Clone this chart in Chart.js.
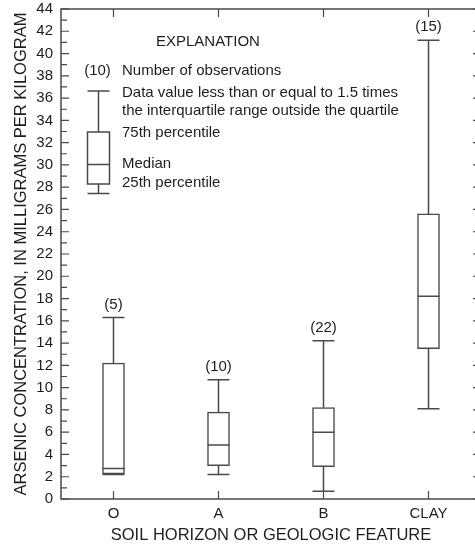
<!DOCTYPE html>
<html>
<head>
<meta charset="utf-8">
<script src="https://cdn.jsdelivr.net/npm/chart.js@4"></script>
<style>
  html, body { margin: 0; padding: 0; background: #fff; overflow: hidden; }
</style>
</head>
<body>
<canvas id="boxchart" width="490" height="546"></canvas>
<script>
"use strict";

// Data (arsenic, mg/kg)
const categories = ["O", "A", "B", "CLAY"];
const observations = [5, 10, 22, 15];
const lowerWhiskers = [2.2, 2.2, 0.7, 8.1];
const lowerQuartiles = [2.25, 3.0, 2.9, 13.5];
const medians = [2.75, 4.85, 6.0, 18.2];
const upperQuartiles = [12.2, 7.8, 8.2, 25.6];
const upperWhiskers = [16.3, 10.7, 14.2, 41.2];
const yTickValues = [0, 2, 4, 6, 8, 10, 12, 14, 16, 18, 20, 22, 24, 26, 28, 30, 32, 34, 36, 38, 40, 42, 44];

const FONT = "'Liberation Sans', Arial, Helvetica, sans-serif";
const LINE_COLOR = "#4a4a4a";
const TEXT_COLOR = "#1e1e1e";
const BOX_WIDTH = 22;

document.addEventListener("DOMContentLoaded", createChart);

/**
 * Ramen runt diagrammet med inåtriktade skalstreck på alla fyra sidor.
 */
const framePlugin = {
  id: "frame",
  afterDatasetsDraw(chart) {
    const {ctx, chartArea: area} = chart;
    const x = chart.scales.x;
    const y = chart.scales.y;
    ctx.save();
    ctx.strokeStyle = LINE_COLOR;
    ctx.lineWidth = 1.5;
    ctx.strokeRect(area.left, area.top, area.right - area.left, area.bottom - area.top);

    ctx.lineWidth = 1.2;
    ctx.beginPath();
    for (let v = yTickValues[0]; v <= yTickValues[yTickValues.length - 1]; v++) {
      const py = y.getPixelForValue(v);
      const len = v % 2 === 0 ? 8 : 6;
      ctx.moveTo(area.left, py);
      ctx.lineTo(area.left + len, py);
    }
    yTickValues.forEach((v) => {
      const py = y.getPixelForValue(v);
      ctx.moveTo(area.right, py);
      ctx.lineTo(area.right - 8, py);
    });
    categories.forEach((c, i) => {
      const px = x.getPixelForValue(i);
      ctx.moveTo(px, area.bottom);
      ctx.lineTo(px, area.bottom - 8);
      ctx.moveTo(px, area.top);
      ctx.lineTo(px, area.top + 8);
    });
    ctx.stroke();
    ctx.restore();
  },
};

/**
 * Morrhår, median och antal observationer för varje låda.
 */
const boxPlotPlugin = {
  id: "boxPlot",
  afterDatasetsDraw(chart) {
    const ctx = chart.ctx;
    const x = chart.scales.x;
    const y = chart.scales.y;
    const half = BOX_WIDTH / 2;
    ctx.save();
    ctx.strokeStyle = LINE_COLOR;
    ctx.lineWidth = 1.5;
    categories.forEach((c, i) => {
      const cx = x.getPixelForValue(i);
      const top = y.getPixelForValue(upperWhiskers[i]);
      const bottom = y.getPixelForValue(lowerWhiskers[i]);
      ctx.beginPath();
      ctx.moveTo(cx, y.getPixelForValue(upperQuartiles[i]));
      ctx.lineTo(cx, top);
      ctx.moveTo(cx - half, top);
      ctx.lineTo(cx + half, top);
      ctx.moveTo(cx, y.getPixelForValue(lowerQuartiles[i]));
      ctx.lineTo(cx, bottom);
      ctx.moveTo(cx - half, bottom);
      ctx.lineTo(cx + half, bottom);
      const med = y.getPixelForValue(medians[i]);
      ctx.moveTo(cx - half, med);
      ctx.lineTo(cx + half, med);
      ctx.stroke();

      ctx.fillStyle = TEXT_COLOR;
      ctx.font = "15px " + FONT;
      ctx.textAlign = "center";
      ctx.textBaseline = "middle";
      ctx.fillText("(" + observations[i] + ")", cx, top - 13);
    });
    ctx.restore();
  },
};

/**
 * Förklaringsrutan uppe till vänster.
 */
const explanationPlugin = {
  id: "explanation",
  afterDraw(chart) {
    const ctx = chart.ctx;
    const left = chart.chartArea.left;
    const top = chart.chartArea.top;
    const cx = left + 37.5;
    const half = BOX_WIDTH / 2;
    ctx.save();
    ctx.strokeStyle = LINE_COLOR;
    ctx.lineWidth = 1.5;
    ctx.beginPath();
    ctx.moveTo(cx - half, top + 82);
    ctx.lineTo(cx + half, top + 82);
    ctx.moveTo(cx, top + 82);
    ctx.lineTo(cx, top + 123);
    ctx.rect(cx - half, top + 123, BOX_WIDTH, 52);
    ctx.moveTo(cx - half, top + 155.5);
    ctx.lineTo(cx + half, top + 155.5);
    ctx.moveTo(cx, top + 175);
    ctx.lineTo(cx, top + 184.5);
    ctx.moveTo(cx - half, top + 184.5);
    ctx.lineTo(cx + half, top + 184.5);
    ctx.stroke();

    ctx.fillStyle = TEXT_COLOR;
    ctx.font = "15px " + FONT;
    ctx.textBaseline = "middle";
    ctx.textAlign = "center";
    ctx.fillText("(10)", cx - 1, top + 62);
    ctx.textAlign = "left";
    ctx.fillText("EXPLANATION", left + 95, top + 33);
    const tx = left + 61;
    ctx.fillText("Number of observations", tx, top + 62);
    ctx.fillText("Data value less than or equal to 1.5 times", tx, top + 84);
    ctx.fillText("the interquartile range outside the quartile", tx, top + 102);
    ctx.fillText("75th percentile", tx, top + 124);
    ctx.fillText("Median", tx, top + 155);
    ctx.fillText("25th percentile", tx, top + 174);
    ctx.restore();
  },
};

/**
 * Skapar lådagrammet. Lådorna ritas som flytande staplar (Q1–Q3).
 *
 * @returns {void}
 */
function createChart() {
  const canvas = document.querySelector("#boxchart");
  const boxes = categories.map((c, i) => [lowerQuartiles[i], upperQuartiles[i]]);

  new Chart(canvas, {
    type: "bar",
    data: {
      labels: categories,
      datasets: [
        {
          label: "Arsenic",
          data: boxes,
          backgroundColor: "#ffffff",
          borderColor: LINE_COLOR,
          borderWidth: 1.5,
          borderSkipped: false,
          barThickness: BOX_WIDTH,
        },
      ],
    },
    options: {
      responsive: false,
      animation: false,
      devicePixelRatio: 1,
      layout: { padding: { top: 9, right: 9, left: 0, bottom: 0 } },
      plugins: {
        legend: { display: false },
        tooltip: { enabled: false },
      },
      scales: {
        x: {
          offset: true,
          grid: { display: false, drawTicks: false },
          border: { display: false },
          ticks: { color: TEXT_COLOR, font: { family: FONT, size: 15 }, padding: 6 },
          title: {
            display: true,
            text: "SOIL HORIZON OR GEOLOGIC FEATURE",
            color: TEXT_COLOR,
            font: { family: FONT, size: 16.5 },
            padding: { top: 0, bottom: 1 },
          },
          afterFit(scale) {
            scale.height = 47;
            scale.paddingLeft = 0;
            scale.paddingRight = 0;
          },
        },
        y: {
          min: 0,
          max: 44,
          grid: { display: false, drawTicks: false },
          border: { display: false },
          ticks: { color: TEXT_COLOR, font: { family: FONT, size: 15 }, padding: 8 },
          afterBuildTicks(scale) {
            scale.ticks = yTickValues.map((v) => ({ value: v }));
          },
          title: {
            display: true,
            text: "ARSENIC CONCENTRATION, IN MILLIGRAMS PER KILOGRAM",
            color: TEXT_COLOR,
            font: { family: FONT, size: 16.5 },
            padding: { top: 12, bottom: 0 },
          },
          afterFit(scale) {
            scale.width = 61;
            scale.paddingTop = 0;
            scale.paddingBottom = 0;
          },
        },
      },
    },
    plugins: [framePlugin, boxPlotPlugin, explanationPlugin],
  });
}
</script>
</body>
</html>
